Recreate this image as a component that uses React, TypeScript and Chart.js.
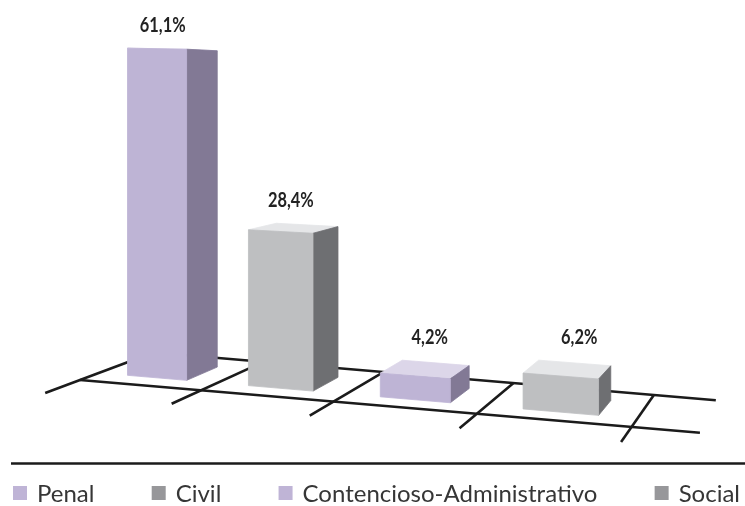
import React, { useEffect, useRef } from 'react';
import { Chart, registerables } from 'chart.js';

Chart.register(...registerables);

// ---- data ----
const categories = ['Penal', 'Civil', 'Contencioso-Administrativo', 'Social'];
const values = [61.1, 28.4, 4.2, 6.2];
const valueLabels = ['61,1%', '28,4%', '4,2%', '6,2%'];

// ---- styles ----
const PURPLE = { front: '#BEB4D5', side: '#827995', top: '#DCD6E9', key: '#BFB4D6' };
const GREY = { front: '#BEBFC1', side: '#6E6F72', top: '#E5E6E8', key: '#97979A' };
const palette = [PURPLE, GREY, PURPLE, GREY];
const LINE = '#1b1b1b';

// perspective parameters (styling)
const BETA = 0.1624; // horizontal foreshortening along the category axis
const SLOPE = 0.085; // floor tilt
const GROW = 0.0002; // vertical scale growth to the right
const VP_DX = 791; // vanishing point offset from chart left
const VP_DY = -296; // vanishing point offset from baseline
const BAR_FRONT = 0.024;
const BAR_BACK = 0.0677;
const FLOOR_BACK = 0.093;
const FLOOR_FRONT_EXT = -0.044;
const FLOOR_EXT = 1.105;

function projector(chart: any) {
  const xs = chart.scales.x;
  const ys = chart.scales.y;
  const L = xs.left;
  const W = xs.right - xs.left;
  const base = ys.getPixelForValue(0);
  const n = categories.length;
  const cell = W / n;
  const VPX = L + VP_DX;
  const VPY = base + VP_DY;
  const fx = (u: number) => {
    const q = u / n;
    return L + W * ((1 - BETA) * q + BETA * q * q);
  };
  const P = (u: number, hpx: number, f: number): [number, number] => {
    const X = fx(u);
    const Y = base + SLOPE * (X - L) - hpx * (1 + GROW * (X - L));
    return [X + f * (VPX - X), Y + f * (VPY - Y)];
  };
  return { P, L, cell, n };
}

function poly(ctx: CanvasRenderingContext2D, pts: [number, number][], color: string) {
  ctx.beginPath();
  ctx.moveTo(pts[0][0], pts[0][1]);
  for (let i = 1; i < pts.length; i++) ctx.lineTo(pts[i][0], pts[i][1]);
  ctx.closePath();
  ctx.fillStyle = color;
  ctx.fill();
  ctx.strokeStyle = color;
  ctx.lineWidth = 0.8;
  ctx.lineJoin = 'round';
  ctx.stroke();
}

function seg(ctx: CanvasRenderingContext2D, a: [number, number], b: [number, number]) {
  ctx.beginPath();
  ctx.moveTo(a[0], a[1]);
  ctx.lineTo(b[0], b[1]);
  ctx.stroke();
}

const floorPlugin = {
  id: 'floor3d',
  beforeDatasetsDraw(chart: any) {
    const ctx: CanvasRenderingContext2D = chart.ctx;
    const { P, n } = projector(chart);
    ctx.save();
    ctx.strokeStyle = LINE;
    ctx.lineWidth = 2.6;
    ctx.lineCap = 'butt';
    seg(ctx, P(0, 0, 0), P(n * FLOOR_EXT, 0, 0));
    seg(ctx, P(0, 0, FLOOR_BACK), P(n * FLOOR_EXT, 0, FLOOR_BACK));
    for (let i = 0; i <= n; i++) {
      seg(ctx, P(i, 0, FLOOR_FRONT_EXT), P(i, 0, FLOOR_BACK));
    }
    ctx.restore();
  },
};

const barsPlugin = {
  id: 'bars3d',
  afterDatasetsDraw(chart: any) {
    const ctx: CanvasRenderingContext2D = chart.ctx;
    const { P, L, cell } = projector(chart);
    const meta = chart.getDatasetMeta(0);
    ctx.save();
    meta.data.forEach((el: any, i: number) => {
      const { x, y, base, width } = el.getProps(['x', 'y', 'base', 'width'], true);
      const u0 = (x - width / 2 - L) / cell;
      const u1 = (x + width / 2 - L) / cell;
      const h = base - y;
      const c = palette[i];
      const fbl = P(u0, 0, BAR_FRONT);
      const fbr = P(u1, 0, BAR_FRONT);
      const ftl = P(u0, h, BAR_FRONT);
      const ftr = P(u1, h, BAR_FRONT);
      const bbr = P(u1, 0, BAR_BACK);
      const btr = P(u1, h, BAR_BACK);
      const btl = P(u0, h, BAR_BACK);
      poly(ctx, [ftl, ftr, btr, btl], c.top);
      poly(ctx, [fbr, bbr, btr, ftr], c.side);
      poly(ctx, [fbl, fbr, ftr, ftl], c.front);

      // value label
      const uc = (u0 + u1) / 2;
      const cx = (ftl[0] + btr[0]) / 2 + (uc - 1.82) * 7.3;
      const topY = Math.min(ftl[1], ftr[1], btr[1], btl[1]);
      ctx.save();
      ctx.font = 'bold 21px Lato, "Open Sans", sans-serif';
      ctx.fillStyle = '#222222';
      ctx.textAlign = 'center';
      ctx.textBaseline = 'alphabetic';
      ctx.translate(cx, topY - 16);
      ctx.scale(0.78, 1);
      ctx.fillText(valueLabels[i], 0, 0);
      ctx.restore();
    });
    ctx.restore();
  },
};

const legendPlugin = {
  id: 'legendRow',
  afterDraw(chart: any) {
    const ctx: CanvasRenderingContext2D = chart.ctx;
    const H = chart.height;
    const Wc = chart.width;
    ctx.save();
    // separator line
    ctx.strokeStyle = LINE;
    ctx.lineWidth = 2.6;
    ctx.beginPath();
    ctx.moveTo(11, H - 42.5);
    ctx.lineTo(Wc, H - 42.5);
    ctx.stroke();

    ctx.font = '24px Lato, "Open Sans", sans-serif';
    ctx.textAlign = 'left';
    ctx.textBaseline = 'alphabetic';
    const box = 14;
    const gapBT = 10;
    const widths = categories.map((c) => box + gapBT + ctx.measureText(c).width);
    const startX = 13;
    const endX = Wc - 5;
    const total = widths.reduce((a, b) => a + b, 0);
    const gap = (endX - startX - total) / (categories.length - 1);
    let x = startX;
    categories.forEach((c, i) => {
      ctx.fillStyle = palette[i].key;
      ctx.fillRect(x, H - 20, box, box);
      ctx.fillStyle = '#363636';
      ctx.fillText(c, x + box + gapBT, H - 4.5);
      x += widths[i] + gap;
    });
    ctx.restore();
  },
};

export default function App() {
  const ref = useRef<HTMLCanvasElement | null>(null);
  useEffect(() => {
    if (!ref.current) return;
    const chart = new Chart(ref.current, {
      type: 'bar',
      data: {
        labels: categories,
        datasets: [
          {
            label: 'Porcentaje',
            data: values,
            backgroundColor: 'rgba(0,0,0,0)',
            borderWidth: 0,
            categoryPercentage: 1,
            barPercentage: 0.5,
          },
        ],
      },
      options: {
        responsive: false,
        animation: false,
        devicePixelRatio: 1,
        layout: { padding: { left: 80, right: 113.4, top: 20, bottom: 126 } },
        scales: {
          x: { display: false, offset: true },
          y: { display: false, min: 0, max: 66 },
        },
        plugins: {
          legend: { display: false },
          tooltip: { enabled: false },
        },
      },
      plugins: [floorPlugin, barsPlugin, legendPlugin],
    });
    return () => chart.destroy();
  }, []);
  return (
    <div style={{ position: 'absolute', left: 0, top: 0, width: 745, height: 506, background: '#ffffff' }}>
      <canvas ref={ref} width={745} height={506} style={{ display: 'block' }} />
    </div>
  );
}
